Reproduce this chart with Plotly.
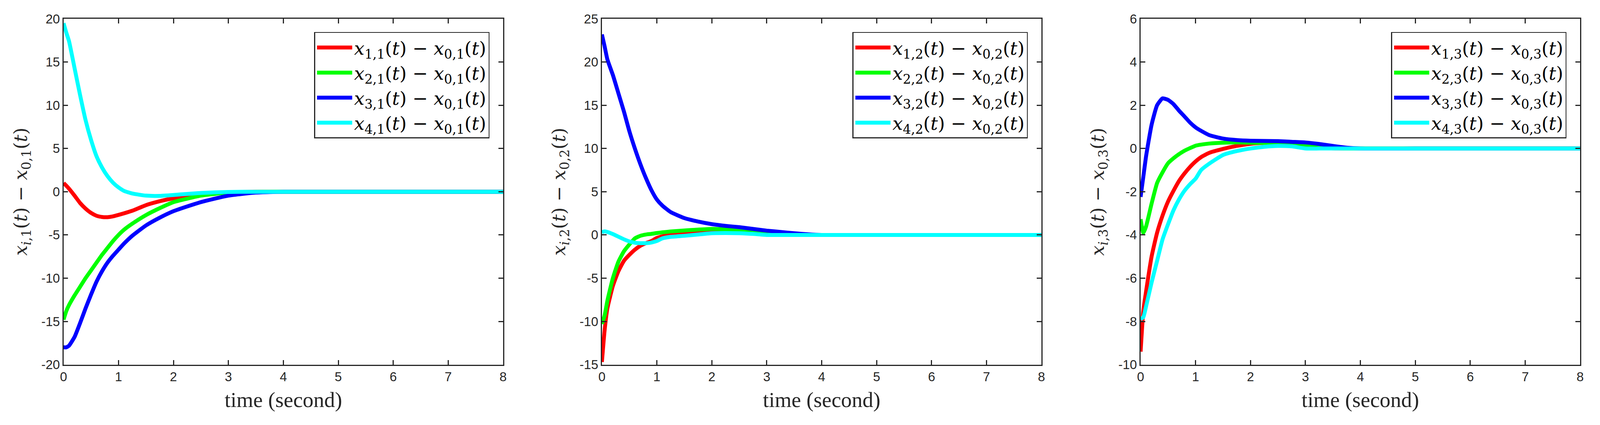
import plotly.graph_objects as go

# ---------------- data ----------------
time_s = [0, 0.05, 0.1, 0.2, 0.3, 0.4, 0.5, 0.6, 0.7, 0.8, 0.9, 1.0, 1.1, 1.25, 1.5,
          1.75, 2.0, 2.25, 2.5, 2.75, 3.0, 3.25, 3.5, 3.75, 4.0, 5, 6, 7, 8]

# panel 1 : x_{i,1}(t) - x_{0,1}(t)
p1_red = [1.0, 0.7, 0.35, -0.45, -1.3, -1.95, -2.45, -2.78, -2.92, -2.94,
          -2.85, -2.68, -2.5, -2.2, -1.55, -1.1, -0.75, -0.5, -0.3, -0.17,
          -0.08, -0.03, -0.01, 0, 0, 0, 0, 0, 0]
p1_green = [-14.8, -13.8, -13.1, -12.0, -11.0, -10.0, -9.1, -8.2, -7.3, -6.5,
            -5.7, -5.0, -4.4, -3.7, -2.7, -1.9, -1.2, -0.8, -0.45, -0.25,
            -0.1, -0.05, -0.02, 0, 0, 0, 0, 0, 0]
p1_blue = [-18.0, -18.0, -17.8, -16.8, -15.2, -13.5, -11.9, -10.4, -9.2, -8.2,
           -7.4, -6.7, -6.0, -5.1, -3.9, -3.0, -2.25, -1.7, -1.2, -0.8,
           -0.45, -0.25, -0.1, -0.04, -0.01, 0, 0, 0, 0]
p1_cyan = [19.5, 18.4, 17.4, 14.3, 11.2, 8.3, 6.0, 4.1, 2.8, 1.8,
           1.05, 0.5, 0.1, -0.2, -0.45, -0.48, -0.38, -0.25, -0.14, -0.07,
           -0.03, -0.01, 0, 0, 0, 0, 0, 0, 0]

# panel 2 : x_{i,2}(t) - x_{0,2}(t)
p2_red = [-14.7, -11.0, -8.5, -5.9, -4.2, -3.0, -2.3, -1.7, -1.25, -0.95,
          -0.7, -0.35, -0.15, 0.05, 0.2, 0.33, 0.42, 0.42, 0.35, 0.25,
          0.1, 0.04, 0.01, 0, 0, 0, 0, 0, 0]
p2_green = [-10.3, -9.3, -7.6, -5.0, -3.1, -1.9, -1.1, -0.4, -0.1, 0.05,
            0.12, 0.22, 0.3, 0.4, 0.52, 0.62, 0.7, 0.65, 0.5, 0.3,
            0.1, 0.03, 0, 0, 0, 0, 0, 0, 0]
p2_blue = [23.2, 21.8, 20.3, 18.5, 16.4, 14.3, 12.0, 10.0, 8.2, 6.6,
           5.2, 4.1, 3.4, 2.65, 1.95, 1.55, 1.25, 1.05, 0.9, 0.7,
           0.5, 0.35, 0.2, 0.08, 0, 0, 0, 0, 0]
p2_cyan = [0.33, 0.42, 0.35, 0.1, -0.2, -0.5, -0.75, -0.9, -0.95, -0.95,
           -0.88, -0.7, -0.4, -0.22, -0.1, 0.05, 0.2, 0.22, 0.2, 0.12,
           0.0, 0, 0, 0, 0, 0, 0, 0, 0]

# panel 3 : x_{i,3}(t) - x_{0,3}(t)
p3_red = [-9.4, -7.5, -6.6, -5.0, -3.9, -3.1, -2.45, -1.95, -1.5, -1.15,
          -0.85, -0.6, -0.4, -0.2, -0.02, 0.12, 0.22, 0.26, 0.27, 0.22,
          0.12, 0.05, 0.01, 0, 0, 0, 0, 0, 0]
p3_green = [-3.27, -3.9, -3.6, -2.55, -1.6, -1.1, -0.68, -0.45, -0.26, -0.1,
            0.02, 0.13, 0.18, 0.23, 0.27, 0.28, 0.27, 0.26, 0.24, 0.2,
            0.15, 0.08, 0.03, 0, 0, 0, 0, 0, 0]
p3_blue = [-2.24, -1.3, -0.35, 1.1, 2.0, 2.32, 2.25, 2.05, 1.75, 1.48,
           1.2, 0.98, 0.82, 0.62, 0.46, 0.39, 0.36, 0.35, 0.34, 0.31,
           0.28, 0.21, 0.12, 0.04, 0, 0, 0, 0, 0]
p3_cyan = [-7.9, -7.8, -7.3, -6.2, -5.2, -4.2, -3.5, -2.85, -2.35, -1.95,
           -1.65, -1.4, -1.0, -0.7, -0.3, -0.12, 0.0, 0.08, 0.12, 0.1,
           0.0, 0, 0, 0, 0, 0, 0, 0, 0]

x_ticks = [0, 1, 2, 3, 4, 5, 6, 7, 8]
y1_ticks = [-20, -15, -10, -5, 0, 5, 10, 15, 20]
y2_ticks = [-15, -10, -5, 0, 5, 10, 15, 20, 25]
y3_ticks = [-10, -8, -6, -4, -2, 0, 2, 4, 6]

colors = ["#FF0000", "#00FF00", "#0000FF", "#00FFFF"]
panels = [
    (1, [p1_red, p1_green, p1_blue, p1_cyan], y1_ticks),
    (2, [p2_red, p2_green, p2_blue, p2_cyan], y2_ticks),
    (3, [p3_red, p3_green, p3_blue, p3_cyan], y3_ticks),
]

# ---------------- layout geometry (reference pixels) ----------------
W, H = 4225, 1087
PAD = 8                      # default body margin of the page
CW, CH = W - 2 * PAD, H - 2 * PAD
plot_left = [159, 1587, 3016]
plot_w = 1166
plot_top, plot_bot = 31, 947


def fx(px):
    return (px - PAD) / CW


def fy(py):
    return 1 - (py - PAD) / CH


AX = "#262626"
TICK_FONT = dict(family="Liberation Sans, Arial, sans-serif", size=33, color=AX)
SERIF = "Liberation Serif, Times New Roman, serif"
MATH = "DejaVu Serif, Liberation Serif, serif"

fig = go.Figure()
layout = dict(
    autosize=True,
    margin=dict(l=0, r=0, t=0, b=0, pad=0),
    paper_bgcolor="white", plot_bgcolor="white",
    showlegend=True,
)
annotations = []

for k, (j, series, yt) in enumerate(panels):
    sfx = "" if k == 0 else str(k + 1)
    xa, ya = "x" + sfx, "y" + sfx
    leg = "legend" + sfx
    for i, (vals, col) in enumerate(zip(series, colors)):
        name = (f"<i>x</i><sub>{i+1},{j}</sub>(<i>t</i>) \u2212 "
                f"<i>x</i><sub>0,{j}</sub>(<i>t</i>)")
        fig.add_trace(go.Scatter(
            x=time_s, y=vals, mode="lines", name=name,
            line=dict(color=col, width=10, shape="spline", smoothing=0.5),
            xaxis=xa, yaxis=ya, legend=leg,
        ))
    layout["xaxis" + sfx] = dict(
        domain=[fx(plot_left[k]), fx(plot_left[k] + plot_w)], range=[0, 8],
        anchor=ya,
        tickvals=x_ticks, ticktext=[str(v) for v in x_ticks],
        ticks="inside", ticklen=12, tickwidth=2.5, tickcolor=AX,
        showline=True, linecolor=AX, linewidth=2.5, mirror="ticks",
        showgrid=False, zeroline=False, tickfont=TICK_FONT,
    )
    layout["yaxis" + sfx] = dict(
        domain=[fy(plot_bot), fy(plot_top)], range=[yt[0], yt[-1]],
        anchor=xa,
        tickvals=yt, ticktext=[str(v) for v in yt],
        ticks="inside", ticklen=12, tickwidth=2.5, tickcolor=AX,
        showline=True, linecolor=AX, linewidth=2.5, mirror="ticks",
        showgrid=False, zeroline=False, tickfont=TICK_FONT,
    )
    layout[leg] = dict(
        x=fx(plot_left[k] + 0.969 * plot_w), y=fy(66),
        xanchor="right", yanchor="top",
        bgcolor="white", bordercolor=AX, borderwidth=2.5,
        font=dict(family=MATH, size=47, color="black"),
        itemwidth=90, tracegroupgap=0,
    )
    # x axis title
    annotations.append(dict(
        text="time (second)", xref="paper", yref="paper",
        x=fx(plot_left[k] + plot_w / 2), y=fy(1040),
        xanchor="center", yanchor="middle", showarrow=False,
        font=dict(family=SERIF, size=55, color=AX),
    ))
    # y axis title
    annotations.append(dict(
        text=(f"<i>x</i><sub><i>i</i>,{j}</sub>(<i>t</i>) \u2212 "
              f"<i>x</i><sub>0,{j}</sub>(<i>t</i>)"),
        xref="paper", yref="paper",
        x=fx(plot_left[k] - 110), y=fy((plot_top + plot_bot) / 2),
        xanchor="center", yanchor="middle", textangle=-90, showarrow=False,
        font=dict(family=MATH, size=47, color=AX),
    ))

layout["annotations"] = annotations
fig.update_layout(**layout)
fig.write_html("out.html", default_width="calc(100vw - 16px)",
               default_height="calc(100vh - 16px)",
               config={"responsive": True})
